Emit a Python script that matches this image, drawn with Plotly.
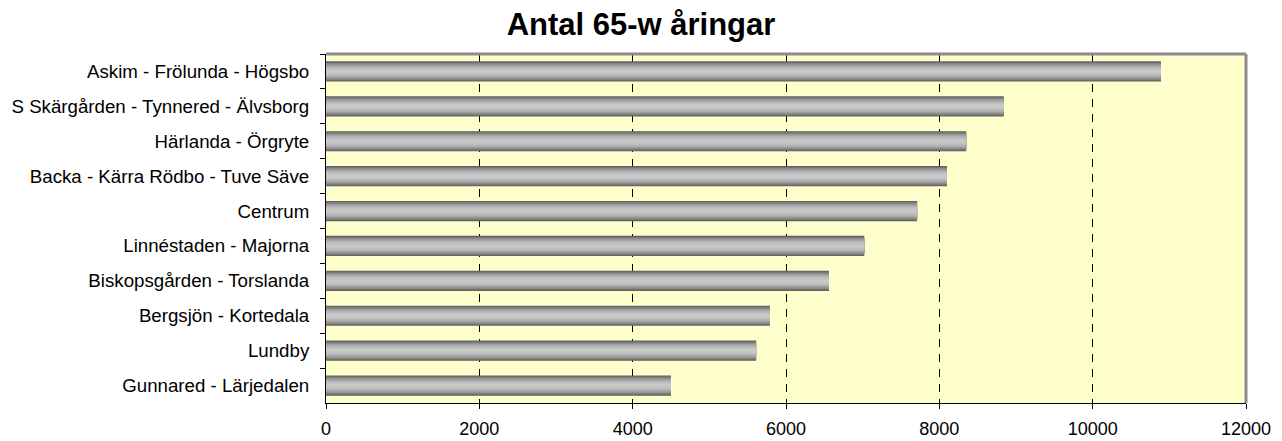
import plotly.graph_objects as go

categories = [
    "Askim - Frölunda - Högsbo",
    "S Skärgården - Tynnered - Älvsborg",
    "Härlanda - Örgryte",
    "Backa - Kärra Rödbo - Tuve Säve",
    "Centrum",
    "Linnéstaden - Majorna",
    "Biskopsgården - Torslanda",
    "Bergsjön - Kortedala",
    "Lundby",
    "Gunnared - Lärjedalen",
]
values = [10890, 8840, 8350, 8100, 7710, 7020, 6560, 5790, 5610, 4500]
x_ticks = [0, 2000, 4000, 6000, 8000, 10000, 12000]
title_text = "Antal 65-w åringar"

FONT = "Arial, 'Liberation Sans', sans-serif"
fig = go.Figure()

# cylinder-like grey gradient built from overlaid bars of decreasing thickness
N = 12
W = 0.58
dark, light = 85, 200
for k in range(N):
    frac = 1 - k / N
    dmid = frac - 0.5 / N
    c = int(round(light - (light - dark) * dmid ** 2))
    fig.add_trace(go.Bar(
        x=values, y=categories, orientation="h",
        width=W * frac,
        marker=dict(color=f"rgb({c},{c},{c})", line=dict(width=0)),
        showlegend=False, hoverinfo="x+y",
    ))

H = 433
fig.update_layout(
    width=1266, height=H,
    barmode="overlay",
    paper_bgcolor="white",
    plot_bgcolor="#FFFFCC",
    margin=dict(l=318, r=28, t=46, b=H - 395),
    font=dict(family=FONT, size=18, color="black"),
    title=dict(text="<b>" + title_text + "</b>", x=0.5, xanchor="center",
               y=1 - 16 / H, yanchor="middle", yref="container",
               font=dict(family=FONT, size=31, color="black")),
)
fig.update_xaxes(
    range=[0, 12000], tickvals=x_ticks, ticktext=[str(v) for v in x_ticks],
    showgrid=True, gridcolor="black", gridwidth=1, griddash="8px,7px",
    showline=True, linecolor="black", linewidth=1,
    ticks="outside", ticklen=5, tickcolor="black",
    zeroline=False, tickfont=dict(size=18), ticklabelstandoff=4,
    automargin=False,
)
fig.update_yaxes(
    categoryorder="array", categoryarray=categories, autorange="reversed",
    showgrid=False, showline=True, linecolor="black", linewidth=1,
    ticks="outside", ticklen=5, tickcolor="black", tickson="boundaries",
    tickfont=dict(size=18.7), ticklabelstandoff=12, automargin=False,
)
# grey frame on top and right
fig.add_shape(type="line", xref="paper", yref="paper", x0=0, x1=1, y0=1, y1=1,
              line=dict(color="#8c8c8c", width=3))
fig.add_shape(type="line", xref="paper", yref="paper", x0=1, x1=1, y0=0, y1=1,
              line=dict(color="#8c8c8c", width=3))

fig.write_html("out.html")
